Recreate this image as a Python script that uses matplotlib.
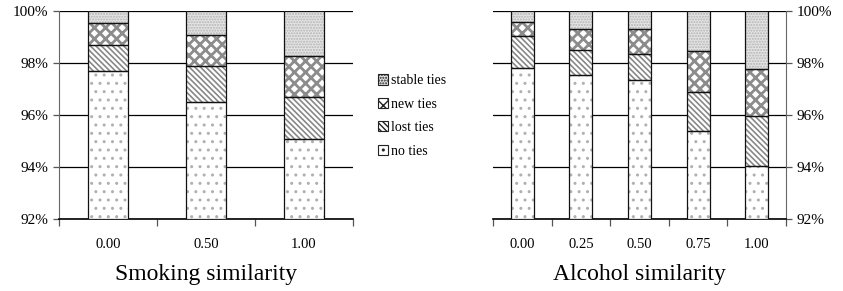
import matplotlib
matplotlib.use("Agg")
import matplotlib.pyplot as plt
import numpy as np
from matplotlib.patches import Patch

plt.rcParams['font.family'] = ['Liberation Serif', 'DejaVu Serif']

series = ["no ties", "lost ties", "new ties", "stable ties"]

smoke_labels = ["0.00", "0.50", "1.00"]
# cumulative tops (%) of each segment
smoke_no = [97.69, 96.51, 95.09]
smoke_lost_top = [98.68, 97.87, 96.68]
smoke_new_top = [99.53, 99.06, 98.26]
smoke_stable_top = [100.0, 100.0, 100.0]

alc_labels = ["0.00", "0.25", "0.50", "0.75", "1.00"]
alc_no = [97.82, 97.53, 97.33, 95.37, 94.04]
alc_lost_top = [99.04, 98.50, 98.35, 96.88, 95.95]
alc_new_top = [99.58, 99.32, 99.32, 98.46, 97.78]
alc_stable_top = [100.0, 100.0, 100.0, 100.0, 100.0]

styles = {
    "no ties": dict(face="white", hatch="..", hc="#b0b0b0", hlw=1.0),
    "lost ties": dict(face="white", hatch="\\\\\\\\\\\\", hc="#888888", hlw=1.2),
    "new ties": dict(face="white", hatch="xxx", hc="#8c8c8c", hlw=2.0),
    "stable ties": dict(face="#e4e4e4", hatch="......", hc="#b4b4b4", hlw=1.0),
}

fig = plt.figure(figsize=(8.43, 2.91), dpi=100)
ax1 = fig.add_axes([59/843, 1-219/291, 294/843, 208/291])
ax2 = fig.add_axes([493/843, 1-219/291, 293/843, 208/291])

def draw(ax, labels, no, lost_top, new_top, stable_top, width, right):
    x = np.arange(len(labels))
    base = 92.0
    tops = [no, lost_top, new_top, stable_top]
    bottoms = [[base]*len(labels), no, lost_top, new_top]
    for name, t, b in zip(series, tops, bottoms):
        st = styles[name]
        h = np.array(t) - np.array(b)
        with plt.rc_context({'hatch.linewidth': st['hlw'], 'hatch.color': st['hc']}):
            bars = ax.bar(x, h, bottom=b, width=width, color=st['face'],
                          edgecolor=st['hc'], hatch=st['hatch'], linewidth=0, zorder=3)
            for p in bars:
                if hasattr(p, 'set_hatch_linewidth'):
                    p.set_hatch_linewidth(st['hlw'])
        ax.bar(x, h, bottom=b, width=width, fill=False, edgecolor='#111111',
               linewidth=0.9, zorder=4)
    ax.set_xlim(-0.5, len(labels)-0.5)
    ax.set_ylim(92, 100)
    ax.set_yticks([92, 94, 96, 98, 100])
    ax.set_yticklabels(["92%", "94%", "96%", "98%", "100%"], fontsize=11)
    ax.yaxis.grid(True, color='black', linewidth=0.9, zorder=0)
    ax.set_axisbelow(True)
    ax.set_xticks(x)
    ax.set_xticklabels(labels, fontsize=10.5)
    ax.tick_params(axis='x', length=0, pad=14)
    ax.set_xticks(np.arange(len(labels)+1)-0.5, minor=True)
    ax.tick_params(axis='x', which='minor', length=5, direction='out', color='#555555', width=0.9)
    ax.tick_params(axis='y', length=4, direction='out', color='#555555', width=0.9)
    ax.spines['top'].set_visible(False)
    ax.spines['bottom'].set_color('black')
    ax.spines['bottom'].set_linewidth(1.2)
    if right:
        ax.spines['left'].set_visible(False)
        ax.spines['right'].set_color('#666666')
        ax.yaxis.tick_right()
        ax.yaxis.set_label_position('right')
    else:
        ax.spines['right'].set_visible(False)
        ax.spines['left'].set_color('#666666')

draw(ax1, smoke_labels, smoke_no, smoke_lost_top, smoke_new_top, smoke_stable_top, 0.41, False)
draw(ax2, alc_labels, alc_no, alc_lost_top, alc_new_top, alc_stable_top, 0.39, True)

ax1.set_xlabel("Smoking similarity", fontsize=17, labelpad=9)
ax2.set_xlabel("Alcohol similarity", fontsize=17, labelpad=9)

handles = []
for name in ["stable ties", "new ties", "lost ties", "no ties"]:
    st = styles[name]
    handles.append(Patch(facecolor=st['face'], edgecolor='#222222', hatch=st['hatch'], linewidth=0.8, label=name))
leg = fig.legend(handles=handles, loc='center left', bbox_to_anchor=(372/843, 1-116/291),
                 frameon=False, fontsize=10, handlelength=0.75, handleheight=0.75,
                 handletextpad=0.2, labelspacing=0.75, borderaxespad=0)

fig.savefig("out.png", dpi=100)
